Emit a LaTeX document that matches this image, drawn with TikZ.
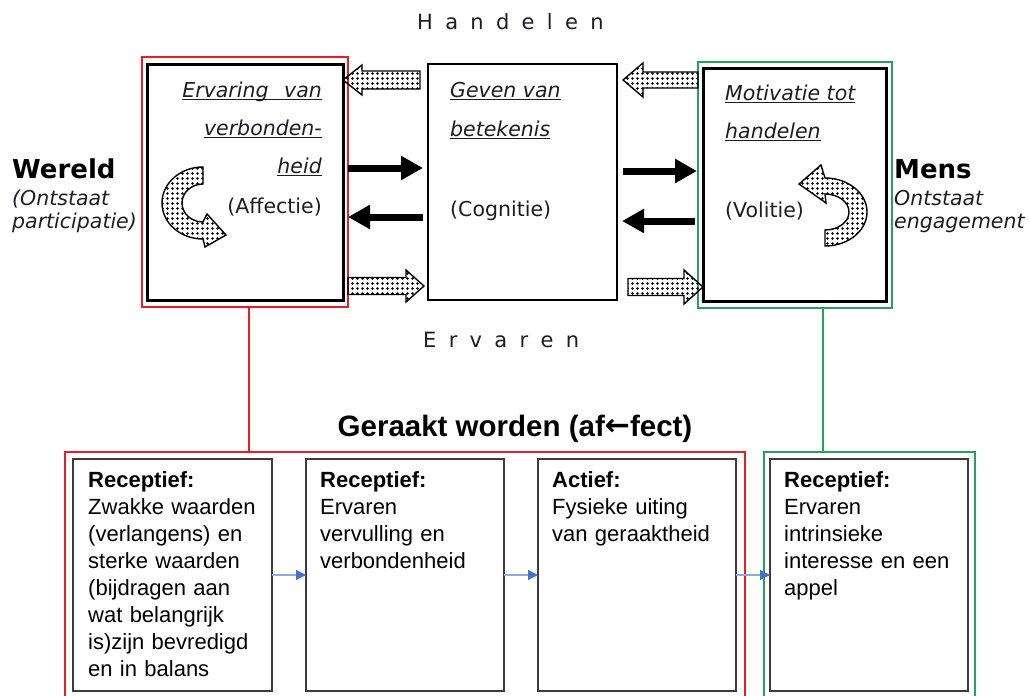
\documentclass[tikz,border=0pt]{standalone}
\usepackage{fontspec}
\newfontfamily\verd{DejaVu Sans}
\newfontfamily\arial{Liberation Sans}
\usetikzlibrary{arrows.meta,patterns}
\definecolor{framered}{RGB}{230,30,40}
\definecolor{framegreen}{RGB}{38,160,95}
\definecolor{boxgray}{RGB}{60,60,60}
\definecolor{inktext}{RGB}{28,28,36}
\definecolor{linkblue}{RGB}{143,170,220}
\definecolor{tipblue}{RGB}{68,114,196}
% dot raster for the hollow block arrows
\pgfdeclarepatternformonly{bigdots}{\pgfpoint{-1pt}{-1pt}}{\pgfpoint{6pt}{6pt}}{\pgfpoint{5pt}{5pt}}%
  {\pgfpathcircle{\pgfpoint{2.5pt}{2.5pt}}{1.4pt}\pgfusepath{fill}}
% underline drawn at a fixed depth below the baseline
\newcommand{\undl}[1]{\leavevmode\setbox0\hbox{#1}\rlap{\rule[-2.6pt]{\wd0}{1.1pt}}\box0}
\newcommand{\gap}{\hspace{12.3pt}}
\begin{document}
\begin{tikzpicture}[x=1pt,y=-1pt,
  frame/.style={rectangle, draw=black, inner sep=0pt, outer sep=0pt},
  lowbox/.style={frame, draw=boxgray, line width=1.5pt, minimum width=198pt, minimum height=232pt, anchor=north west},
  uptext/.style={inner sep=0pt, text=inktext, font=\verd\fontsize{20.5}{24}\selectfont},
  sidehead/.style={inner sep=0pt, anchor=base west, text=black, font=\verd\bfseries\fontsize{26}{30}\selectfont},
  spaced/.style={inner sep=0pt, anchor=base west, text=inktext, font=\verd\fontsize{21}{25}\selectfont},
  lowtext/.style={inner sep=0pt, anchor=base west, align=left, text width=182pt, font=\arial\fontsize{22}{27}\selectfont},
  dotpat/.style={draw=black, line width=1.4pt, line join=miter, pattern=bigdots, pattern color=black},
  blkarrow/.style={draw=black, line width=7pt, -{Triangle[length=22pt, width=23pt]}},
  bluearrow/.style={draw=linkblue, line width=1.2pt, -{Triangle[length=10pt, width=10pt, color=tipblue]}},
  pics/dotarrow/.style n args={4}{code={%
    \path[dotpat] (0,0) -- (-#2,-#4) -- (-#2,-#3) -- (-#1,-#3) -- (-#1,#3) -- (-#2,#3) -- (-#2,#4) -- cycle;}}
]
\useasboundingbox (0,0) rectangle (1029,696);
\clip (0,0) rectangle (1029,696);

% ---------- upper row: three boxes ----------
\node[frame, draw=framered, line width=2pt, minimum width=206pt, minimum height=250pt] (LR) at (245,182) {};
\node[frame, line width=3pt, minimum width=196pt, minimum height=236pt] (L) at (245,182) {};
\node[frame, line width=2.5pt, minimum width=189pt, minimum height=236pt] (M) at (522.5,182) {};
\node[frame, draw=framegreen, line width=2pt, minimum width=194pt, minimum height=246pt] (RG) at (795,185) {};
\node[frame, line width=3pt, minimum width=183pt, minimum height=233pt] (R) at (794.5,184.5) {};

% box texts
\node[uptext, anchor=base east] (l1) at (322,97) {\itshape\undl{Ervaring\hspace{9pt} van}};
\node[uptext, anchor=base east] (l2) at (322,135) {\itshape\undl{verbonden-}};
\node[uptext, anchor=base east] (l3) at (322,173) {\itshape\undl{heid}};
\node[uptext, anchor=base east] (l4) at (322,213) {(Affectie)};

\node[uptext, anchor=base west] (m1) at (450,97) {\itshape\undl{Geven van}};
\node[uptext, anchor=base west] (m2) at (450,136) {\itshape\undl{betekenis}};
\node[uptext, anchor=base west] (m3) at (450,216) {(Cognitie)};

\node[uptext, anchor=base west] (r1) at (725,100) {\itshape\undl{Motivatie tot}};
\node[uptext, anchor=base west] (r2) at (725,138) {\itshape\undl{handelen}};
\node[uptext, anchor=base west] (r3) at (725,217) {(Volitie)};

% side labels
\node[sidehead] (wereld) at (12,178) {Wereld};
\node[uptext, anchor=base west] (w1) at (12,205) {\itshape(Ontstaat};
\node[uptext, anchor=base west] (w2) at (12,228) {\itshape participatie)};
\node[sidehead] (mens) at (894,178) {Mens};
\node[uptext, anchor=base west] (n1) at (894,205) {\itshape Ontstaat};
\node[uptext, anchor=base west] (n2) at (894,228) {\itshape engagement};

% top and bottom captions
\node[spaced] (handelen) at (417,30) {H\gap a\gap n\gap d\gap e\gap l\gap e\gap n};
\node[spaced] (ervaren) at (423,347) {E\gap r\gap v\gap a\gap r\gap e\gap n};

% ---------- arrows between the upper boxes ----------
\pic[rotate=180] at (L.east |- 0,80) {dotarrow={77}{19}{9}{15}};
\pic[xshift=-4pt] at (M.west |- 0,286) {dotarrow={76}{18}{8.5}{16}};
\pic[xshift=6pt, rotate=180] at (M.east |- 0,80) {dotarrow={75}{20}{8}{17}};
\pic at (R.west |- 0,287) {dotarrow={75}{19}{8.5}{17}};

\draw[blkarrow, shorten <=5pt, shorten >=5pt] (L.east |- 0,168) -- (M.west |- 0,168);
\draw[blkarrow, shorten <=5pt, shorten >=5pt] (M.west |- 0,217) -- (L.east |- 0,217);
\draw[blkarrow, shorten <=6pt, shorten >=6pt] (M.east |- 0,171) -- (R.west |- 0,171);
\draw[blkarrow, shorten <=8pt, shorten >=5pt] (R.west |- 0,221) -- (M.east |- 0,221);

% curved arrows inside the outer boxes
\path[dotpat] (203,167) arc[start angle=270, end angle=90, x radius=41, y radius=36]
  -- (205,247) -- (226,235) -- (207,214) -- (203,222)
  arc[start angle=90, end angle=270, x radius=21, y radius=19] -- cycle;
\path[dotpat] (825,246) arc[start angle=90, end angle=-90, x radius=42, y radius=34]
  -- (821,165) -- (799,184) -- (826,203) -- (825,194)
  arc[start angle=-90, end angle=90, x radius=24, y radius=18] -- cycle;

% ---------- lower part ----------
\node[inner sep=0pt, anchor=base, font=\arial\bfseries\fontsize{29.5}{34}\selectfont] (title) at (515,436)
  {Geraakt worden (af\raisebox{1pt}{\verd\fontsize{30}{34}\selectfont ←}fect)};

\node[frame, draw=framered, line width=2pt, minimum width=680pt, minimum height=262pt, anchor=north west] (LRB) at (65,452) {};
\node[frame, draw=framegreen, line width=2pt, minimum width=211pt, minimum height=262pt, anchor=north west] (LGB) at (764,452) {};

\node[lowbox, minimum width=199pt] (B1) at (73,459) {};
\node[lowbox] (B2) at (306,459) {};
\node[lowbox] (B3) at (538,459) {};
\node[lowbox] (B4) at (770,459) {};

\node[lowtext] (t1) at (88,487) {\textbf{Receptief:}\\Zwakke waarden\\(verlangens) en\\sterke waarden\\(bijdragen aan\\wat belangrijk\\is)zijn bevredigd\\en in balans};
\node[lowtext] (t2) at (320,487) {\textbf{Receptief:}\\Ervaren\\vervulling en\\verbondenheid};
\node[lowtext] (t3) at (552,487) {\textbf{Actief:}\\Fysieke uiting\\van geraaktheid};
\node[lowtext] (t4) at (784,487) {\textbf{Receptief:}\\Ervaren\\intrinsieke\\interesse en een\\appel};

\draw[bluearrow] (B1.east) -- (B2.west);
\draw[bluearrow] (B2.east) -- (B3.west);
\draw[bluearrow] (B3.east) -- (B4.west);

% links from the upper outer boxes to the lower groups
\draw[framered, line width=2pt] (LR.south -| 249,0) -- (LRB.north -| 249,0);
\draw[framegreen, line width=2pt] (RG.south -| 823,0) -- (LGB.north -| 823,0);
\end{tikzpicture}
\end{document}
